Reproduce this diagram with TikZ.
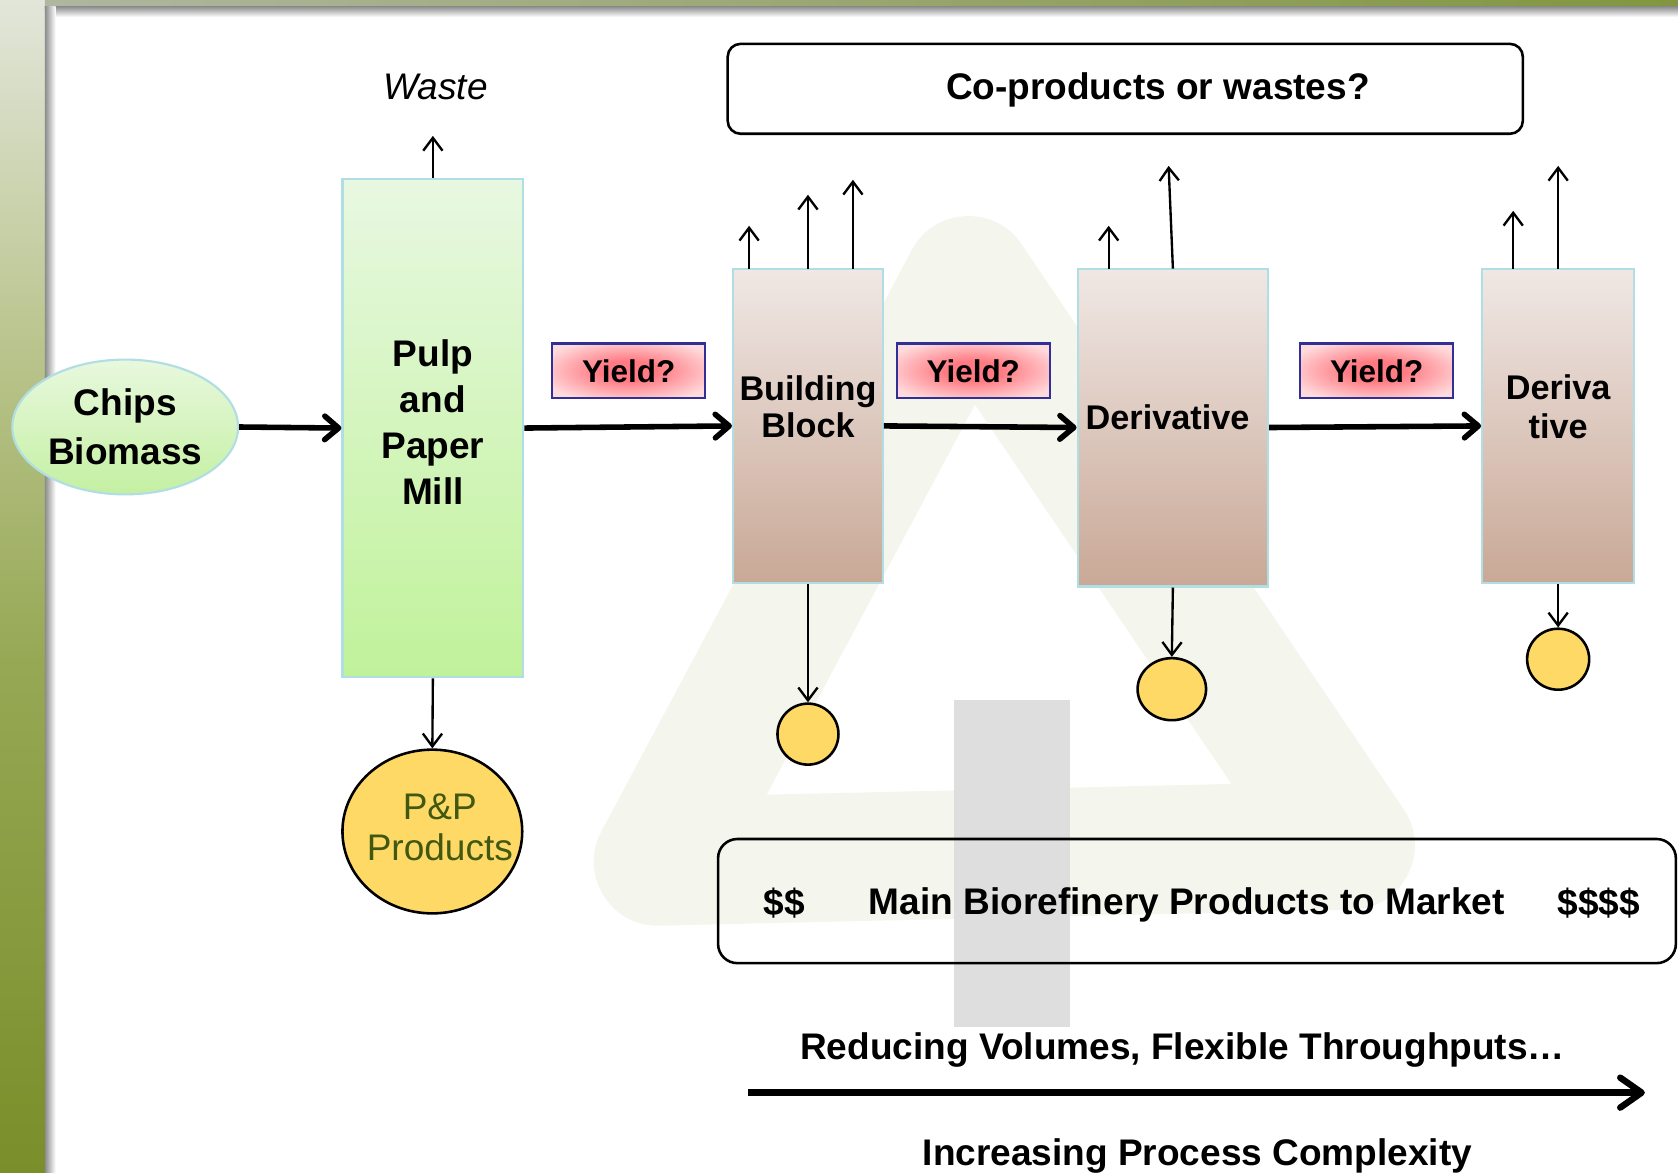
\documentclass[tikz,border=0pt]{standalone}
\usepackage{fontspec}
\setmainfont{Liberation Sans}
\usetikzlibrary{arrows.meta,shapes.geometric,calc}

\definecolor{edgeC}{RGB}{176,222,228}
\definecolor{greenTop}{RGB}{232,248,225}
\definecolor{greenBot}{RGB}{192,242,154}
\definecolor{chipsTop}{RGB}{232,248,222}
\definecolor{chipsBot}{RGB}{196,240,162}
\definecolor{brTop}{RGB}{240,232,229}
\definecolor{brBot}{RGB}{201,168,150}
\definecolor{yieldIn}{RGB}{255,122,130}
\definecolor{yieldOut}{RGB}{255,218,220}
\definecolor{yieldEdge}{RGB}{48,48,150}
\definecolor{coin}{RGB}{255,217,102}
\definecolor{ppText}{RGB}{64,88,16}
\definecolor{wmBeige}{RGB}{244,245,236}
\definecolor{wmGray}{RGB}{222,222,222}
\definecolor{stripA}{RGB}{226,230,218}
\definecolor{stripB}{RGB}{186,197,142}
\definecolor{stripC}{RGB}{150,168,84}
\definecolor{stripD}{RGB}{122,142,42}
\definecolor{topL}{RGB}{176,182,160}
\definecolor{topR}{RGB}{130,150,64}

% red core fading to pale pink towards the box edges
\pgfdeclareradialshading{yieldshade}{\pgfpoint{0bp}{0bp}}{%
  color(0bp)=(yieldIn); color(9bp)=(yieldIn); color(30bp)=(yieldOut); color(50bp)=(yieldOut)}

\begin{document}
\begin{tikzpicture}[x=0.5pt,y=-0.5pt,
  txt/.style={font=\fontsize{17.3}{21}\selectfont\bfseries, align=center, inner sep=0pt},
  proctxt/.style={font=\fontsize{16}{17.5}\selectfont\bfseries, align=center, inner sep=0pt},
  greenbox/.style={rectangle, draw=edgeC, line width=1pt, top color=greenTop, bottom color=greenBot, inner sep=0pt},
  brownbox/.style={rectangle, draw=edgeC, line width=1pt, top color=brTop, bottom color=brBot, inner sep=0pt},
  yieldbox/.style={rectangle, draw=yieldEdge, line width=1.1pt, shading=yieldshade,
    minimum width=71.5pt, minimum height=25.5pt, inner sep=0pt, font=\fontsize{14.7}{18}\selectfont\bfseries},
  coinnode/.style={ellipse, draw=black, line width=1.2pt, fill=coin, inner sep=0pt},
  roundbox/.style={rectangle, draw=black, line width=1.2pt, inner sep=0pt},
  flow/.style={line width=2.6pt, -{Straight Barb[length=6.5pt,width=11pt,round]}},
  side/.style={line width=1.1pt, -{Straight Barb[length=6pt,width=9pt]}},
  bigflow/.style={line width=3pt, -{Straight Barb[length=10pt,width=14pt,round]}}
]
\useasboundingbox (0,0) rectangle (1568,1096);

% backdrop: green frame and white panel with soft shadow
\fill[white] (0,0) rectangle (1568,1096);
\shade[top color=stripA, bottom color=stripB] (0,0) rectangle (42,320);
\shade[top color=stripB, bottom color=stripC] (0,320) rectangle (42,620);
\shade[top color=stripC, bottom color=stripD] (0,620) rectangle (42,1096);
\shade[left color=topL, right color=topR] (42,0) rectangle (1568,6);
\fill[white] (42,6) rectangle (1568,1096);
\shade[top color=black!45, bottom color=white] (42,6) rectangle (1568,16);
\shade[left color=black!45, right color=white] (42,6) rectangle (52,1096);

% faint watermark
\draw[wmBeige, line width=60pt, line join=round] (905,262) -- (1262,790) -- (615,805) -- cycle;
\fill[wmGray] (891,654) rectangle (1000,960);

% feedstock and pulp mill
\node[ellipse, draw=edgeC, line width=1pt, top color=chipsTop, bottom color=chipsBot,
  minimum width=105.5pt, minimum height=63pt, inner sep=0pt] (chips) at (117,399) {};
\node[txt, font=\fontsize{17.3}{23}\selectfont\bfseries] (chipstxt) at (117,399) {Chips\\Biomass};

\node[greenbox, minimum width=84.5pt, minimum height=233pt] (pulp) at (404.5,400) {};
\node[txt, font=\fontsize{17.3}{21.5}\selectfont\bfseries] (pulptxt) at (404.5,394) {Pulp\\and\\Paper\\Mill};

\node[font=\fontsize{17.3}{21}\selectfont\itshape, inner sep=0pt] (waste) at (407,81) {Waste};
\coordinate (wasteend) at (404.5,127);

\node[coinnode, minimum width=84pt, minimum height=76.5pt] (pp) at (404,777) {};
\node[font=\fontsize{17.3}{19}\selectfont, text=ppText, align=center, inner sep=0pt] (pptxt) at (411,773) {P\&P\\Products};

% process chain
\node[brownbox, minimum width=70pt, minimum height=147pt] (bb) at (755,398) {};
\node[proctxt] (bbtxt) at (755,380) {Building\\Block};

\node[brownbox, minimum width=89pt, minimum height=148.5pt] (der) at (1096,399.5) {};
\node[proctxt] (dertxt) at (1091,390) {Derivative};

\node[brownbox, minimum width=71pt, minimum height=147pt] (dt) at (1456,398) {};
\node[proctxt, font=\fontsize{16}{18}\selectfont\bfseries] (dttxt) at (1456,380) {Deriva\\tive};

\node[yieldbox] (y1) at (587.5,346.5) {Yield?};
\node[yieldbox] (y2) at (909.5,346.5) {Yield?};
\node[yieldbox] (y3) at (1286.5,346.5) {Yield?};

% product coins
\node[coinnode, minimum width=28.5pt, minimum height=28.5pt] (c1) at (755,686) {};
\node[coinnode, minimum width=32pt, minimum height=29pt] (c2) at (1095,644) {};
\node[coinnode, minimum width=29pt, minimum height=28.5pt] (c3) at (1456,616) {};

% main flow
\draw[flow] (chips.east) -- (pulp.west);
\draw[flow] (pulp.east) -- (bb.west);
\draw[flow] (bb.east) -- (der.west);
\draw[flow] (der.east) -- (dt.west);

% side streams
\draw[side] (pulp.north) -- (wasteend);
\draw[side] (pulp.south) -- (pp.north);

\coordinate (bbA0) at (700,251); \coordinate (bbA1) at (700,211);
\coordinate (bbB0) at (755,251); \coordinate (bbB1) at (755,182);
\coordinate (bbC0) at (797,251); \coordinate (bbC1) at (797,168);
\draw[side] (bbA0) -- (bbA1);
\draw[side] (bbB0) -- (bbB1);
\draw[side] (bbC0) -- (bbC1);

\coordinate (derA0) at (1036,251); \coordinate (derA1) at (1036,211);
\coordinate (derB0) at (1096,251); \coordinate (derB1) at (1092,155);
\draw[side] (derA0) -- (derA1);
\draw[side] (derB0) -- (derB1);

\coordinate (dtA0) at (1414,251); \coordinate (dtA1) at (1414,197);
\coordinate (dtB0) at (1456,251); \coordinate (dtB1) at (1456,155);
\draw[side] (dtA0) -- (dtA1);
\draw[side] (dtB0) -- (dtB1);

\draw[side] (bb.south) -- (c1.north);
\draw[side] (der.south) -- (c2.north);
\draw[side] (dt.south) -- (c3.north);

% question and market boxes
\node[roundbox, rounded corners=6pt, minimum width=371.5pt, minimum height=42pt] (cop) at (1051.5,83) {};
\node[txt] (coptxt) at (1082,84) {Co-products or wastes?};

\node[roundbox, rounded corners=9pt, minimum width=447.5pt, minimum height=58pt] (mkt) at (1118.5,842) {};
\node[txt] (lowval) at (733,844) {\$\$};
\node[txt] (mkttxt) at (1109,846) {Main Biorefinery Products to Market};
\node[txt] (highval) at (1494,844) {\$\$\$\$};

% bottom trend arrow
\node[txt] (reduce) at (1105,981) {Reducing Volumes, Flexible Throughputs…};
\coordinate (trend0) at (699,1021);
\coordinate (trend1) at (1537,1021);
\draw[bigflow] (trend0) -- (trend1);
\node[txt] (complex) at (1119,1080) {Increasing Process Complexity};
\end{tikzpicture}
\end{document}
